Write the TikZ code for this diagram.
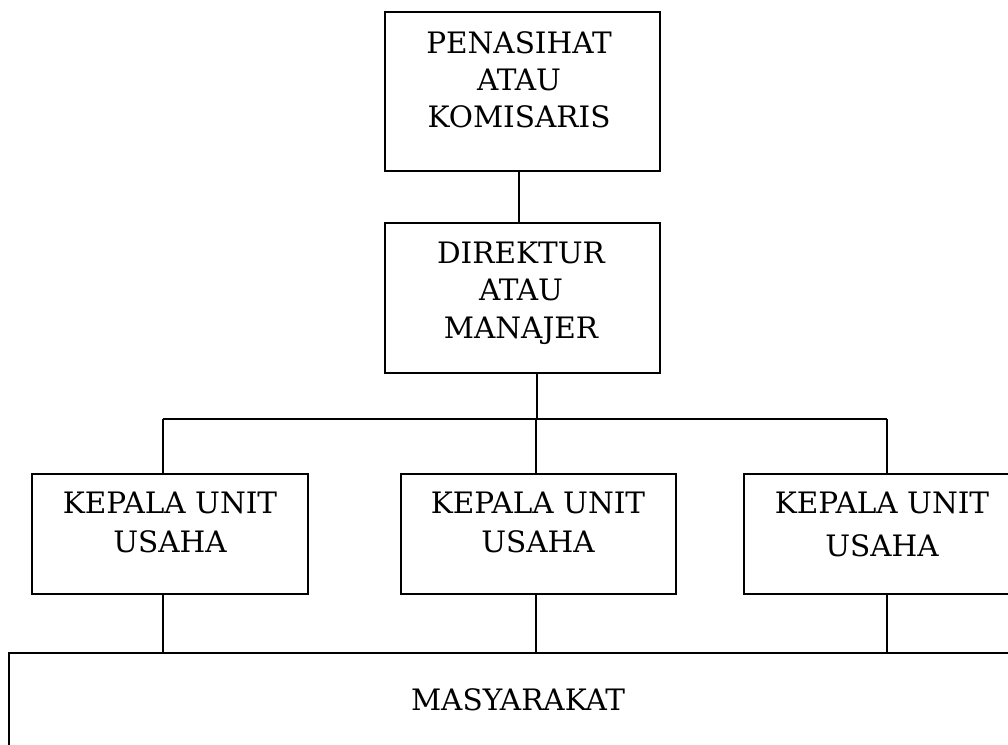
\documentclass[tikz,border=0pt]{standalone}
\usepackage{fontspec}
\setmainfont{DejaVu Serif}
\begin{document}
\begin{tikzpicture}[x=1pt,y=-1pt,
  box/.style={draw, line width=1.7pt, rectangle, inner sep=0pt, anchor=north west},
  lbl/.style={align=center, inner sep=0pt, anchor=base, font=\fontsize{29.5}{37}\selectfont},
  conn/.style={line width=1.4pt}]
\useasboundingbox (0,0) rectangle (1008,744);
\begin{scope}
\clip (0,0) rectangle (1008,744);
% boxes
\node[box, minimum width=275pt, minimum height=159pt] (kom) at (384,11) {};
\node[box, minimum width=275pt, minimum height=150pt] (dir) at (384,222) {};
\node[box, minimum width=276pt, minimum height=120pt] (u1) at (31,473) {};
\node[box, minimum width=275pt, minimum height=120pt] (u2) at (400,473) {};
\node[box, minimum width=280pt, minimum height=120pt] (u3) at (743,473) {};
\node[box, minimum width=1010pt, minimum height=120pt] (mas) at (8,652) {};
\end{scope}
% labels
\node[lbl] (t1) at (519,53) {PENASIHAT};
\node[lbl] (t2) at (519,90) {ATAU};
\node[lbl] (t3) at (519,127) {KOMISARIS};
\node[lbl] (d1) at (521,263) {DIREKTUR};
\node[lbl] (d2) at (521,300) {ATAU};
\node[lbl] (d3) at (521,338) {MANAJER};
\node[lbl] (a1) at (170,513) {KEPALA UNIT};
\node[lbl] (a2) at (170,552) {USAHA};
\node[lbl] (b1) at (538,513) {KEPALA UNIT};
\node[lbl] (b2) at (538,552) {USAHA};
\node[lbl] (c1) at (882,513) {KEPALA UNIT};
\node[lbl] (c2) at (882,556) {USAHA};
\node[lbl] (m1) at (518,710) {MASYARAKAT};
% connectors
\coordinate (k) at (519,0);
\coordinate (bus) at (537,419);
\coordinate (p1) at (163,419);
\coordinate (p2) at (536,419);
\coordinate (p3) at (887,419);
\draw[conn] (k |- kom.south) -- (k |- dir.north);
\draw[conn] (bus |- dir.south) -- (bus);
\draw[conn] (p1) -- (p3);
\draw[conn] (p1) -- (p1 |- u1.north);
\draw[conn] (p2) -- (p2 |- u2.north);
\draw[conn] (p3) -- (p3 |- u3.north);
\draw[conn] (p1 |- u1.south) -- (p1 |- mas.north);
\draw[conn] (p2 |- u2.south) -- (p2 |- mas.north);
\draw[conn] (p3 |- u3.south) -- (p3 |- mas.north);
\end{tikzpicture}
\end{document}
